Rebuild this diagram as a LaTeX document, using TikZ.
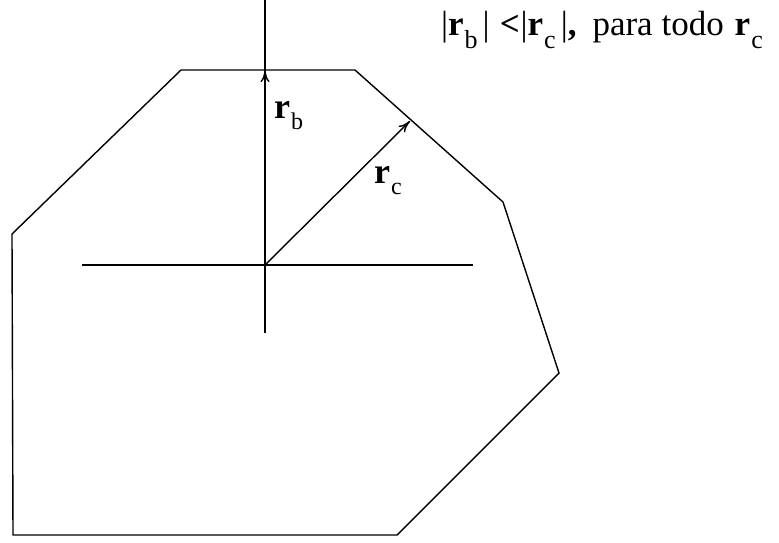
\documentclass[tikz,border=0pt]{standalone}
\usepackage{fontspec}
\setmainfont{Liberation Serif}
\usepackage{tikz}
\usetikzlibrary{arrows.meta,positioning}
% bold r with upright subscript: #1 letter, #2 subscript size, #3 drop
\newcommand{\vecr}[3]{\textbf{r}\kern1pt\raisebox{-#3}{\fontsize{#2}{#2}\selectfont #1}}

\begin{document}
\begin{tikzpicture}[
  x=1pt,y=-1pt,
  font=\fontsize{36}{40}\selectfont,
  edge/.style={line width=1.4pt,line join=miter},
  axis/.style={line width=1.4pt},
  vec/.style={-{To[length=12pt,width=9pt]},line width=1.4pt},
  lbl/.style={inner sep=0pt},
]
\useasboundingbox (0,0) rectangle (779,542);
% cell outline
\coordinate (p1) at (181,70);
\coordinate (p2) at (355,70);
\coordinate (p3) at (503,202);
\coordinate (p4) at (559,373);
\coordinate (p5) at (397,535);
\coordinate (p6) at (13,535);
\coordinate (p7) at (12,234);
\draw[edge] (p1) -- (p2) -- (p3) -- (p4) -- (p5) -- (p6) -- (p7) -- cycle;

% axes
\coordinate (O) at (265,265);
\coordinate (ytop) at (265,0);
\coordinate (ybot) at (265,333);
\coordinate (xleft) at (82,265);
\coordinate (xright) at (473,265);
\draw[axis] (ybot) -- (ytop);
\draw[axis] (xleft) -- (xright);

% vectors
\coordinate (tb) at (265,70);
\coordinate (tc) at (410,121);
\draw[vec] (O) -- (tb);
\draw[vec] (O) -- (tc);
\node[lbl,anchor=base west] (rb) at (274,118) {\vecr{b}{24}{11pt}};
\node[lbl,anchor=base west] (rc) at (374,183) {\vecr{c}{24}{11pt}};

\node[lbl,anchor=base west,font=\fontsize{35}{40}\selectfont] (cond) at (441,35)
  {|\vecr{b}{26}{13pt}\kern5pt|\hspace{10pt}\textbf{<}\kern1pt|\vecr{c}{26}{13pt}\kern5pt|\textbf{,}\hspace{16pt}para todo\hspace{11pt}\vecr{c}{26}{13pt}};
\end{tikzpicture}
\end{document}
